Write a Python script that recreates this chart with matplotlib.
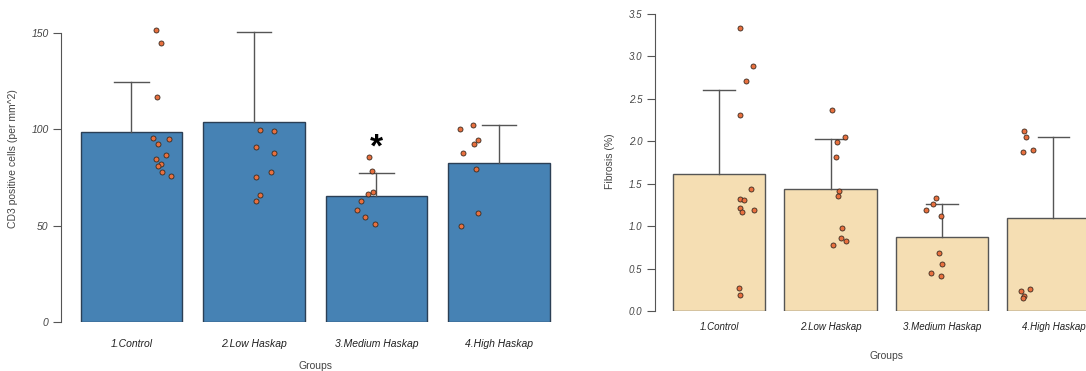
import matplotlib
matplotlib.use("Agg")
import matplotlib.pyplot as plt

plt.rcParams['font.family'] = ['Liberation Sans', 'DejaVu Sans']

groups = ['1.Control', '2.Low Haskap', '3.Medium Haskap', '4.High Haskap']

# CD3 positive cells (per mm^2)
cd3_mean = [98.8, 103.6, 65.4, 82.5]
cd3_err = [124.4, 150.5, 77.5, 102.4]
cd3_points = [
    [151.5, 144.6, 116.9, 95.6, 95.0, 92.2, 86.5, 84.8, 81.8, 81.1, 78.0, 75.8],
    [99.6, 99.3, 90.7, 87.9, 78.0, 75.1, 65.9, 62.6],
    [85.8, 78.5, 67.6, 66.3, 63.0, 58.1, 54.5, 51.0],
    [102.1, 100.0, 94.3, 92.2, 87.5, 79.4, 56.4, 50.0],
]
cd3_jitter = [
    [0.20, 0.24, 0.21, 0.18, 0.31, 0.22, 0.28, 0.20, 0.24, 0.22, 0.25, 0.32],
    [0.05, 0.16, 0.02, 0.16, 0.14, 0.02, 0.05, 0.02],
    [-0.06, -0.04, -0.03, -0.07, -0.13, -0.16, -0.09, -0.01],
    [-0.21, -0.32, -0.17, -0.20, -0.29, -0.19, -0.17, -0.31],
]

# Fibrosis (%)
fib_mean = [1.614, 1.438, 0.876, 1.096]
fib_err = [2.608, 2.027, 1.264, 2.050]
fib_points = [
    [3.338, 2.891, 2.714, 2.310, 1.434, 1.324, 1.304, 1.217, 1.194, 1.163, 0.271, 0.189],
    [2.365, 2.054, 1.988, 1.815, 1.418, 1.359, 0.975, 0.864, 0.821, 0.774],
    [1.332, 1.264, 1.190, 1.116, 0.680, 0.554, 0.451, 0.408],
    [2.117, 2.054, 1.894, 1.870, 0.263, 0.239, 0.177, 0.153],
]
fib_jitter = [
    [0.19, 0.30, 0.24, 0.19, 0.29, 0.19, 0.22, 0.19, 0.31, 0.21, 0.18, 0.19],
    [0.01, 0.13, 0.06, 0.05, 0.08, 0.07, 0.10, 0.09, 0.14, 0.02],
    [-0.05, -0.08, -0.14, -0.01, -0.03, -0.00, -0.10, -0.01],
    [-0.26, -0.25, -0.18, -0.27, -0.21, -0.29, -0.26, -0.27],
]

pt_color = '#e8703f'
axis_grey = '#555555'
text_grey = '#444444'

fig = plt.figure(figsize=(10.86, 3.71), dpi=100)


def draw_panel(ax, means, errs, points, jitter, color, edge, yticks, ylabels, ymax,
               ylab, tick_size):
    x = list(range(len(groups)))
    ax.bar(x, means, width=0.83, color=color, edgecolor=edge, linewidth=1.0, zorder=1)
    for i in x:
        ax.plot([i, i], [means[i], errs[i]], color=axis_grey, lw=1.0, zorder=2)
        ax.plot([i - 0.14, i + 0.14], [errs[i], errs[i]], color=axis_grey, lw=1.0, zorder=2)
        xs = [i + j for j in jitter[i]]
        ax.scatter(xs, points[i], s=13, color=pt_color, edgecolor='#3a2a20',
                   linewidth=0.6, zorder=3)
    ax.set_xlim(-0.575, 3.58)
    ax.set_ylim(0, ymax)
    for s in ['top', 'right', 'bottom']:
        ax.spines[s].set_visible(False)
    ax.spines['left'].set_bounds(yticks[0], yticks[-1])
    ax.spines['left'].set_color(axis_grey)
    ax.set_yticks(yticks)
    ax.set_yticklabels(ylabels, fontstyle='italic', color=text_grey, fontsize=tick_size)
    ax.tick_params(axis='y', length=6, color=axis_grey, pad=3)
    ax.set_xticks(x)
    ax.set_xticklabels(groups, fontstyle='italic', color='#222222', fontsize=tick_size)
    ax.tick_params(axis='x', length=0, pad=12)
    ax.set_ylabel(ylab, color=text_grey, fontsize=7.5)
    ax.set_xlabel('Groups', color=text_grey, fontsize=7.5)
    ax.patch.set_alpha(0)


ax1 = fig.add_axes([61 / 1086, 1 - 322 / 371, 509 / 1086, (322 - 13.7) / 371])
draw_panel(ax1, cd3_mean, cd3_err, cd3_points, cd3_jitter, '#4682b4', '#2b3f55',
           [0, 50, 100, 150], ['0', '50', '100', '150'], 160,
           'CD3 positive cells (per mm^2)', 7.5)
ax1.yaxis.set_label_coords(-0.085, 0.53)
ax1.xaxis.set_label_coords(0.5, -0.128)
ax1.text(2, 90.5, '*', ha='center', va='center', fontsize=24, fontweight='bold', color='black')

ax2 = fig.add_axes([655 / 1086, 1 - 311 / 371, 463 / 1086, (311 - 5.5) / 371])
fib_ticks = [0.0, 0.5, 1.0, 1.5, 2.0, 2.5, 3.0, 3.5]
draw_panel(ax2, fib_mean, fib_err, fib_points, fib_jitter, '#f5deb3', '#555555',
           fib_ticks, ['%.1f' % t for t in fib_ticks], 3.6,
           'Fibrosis (%)', 7)
ax2.tick_params(axis='x', pad=8)
ax2.yaxis.set_label_coords(-0.087, 0.49)
ax2.xaxis.set_label_coords(0.5, -0.13)

fig.savefig('out.png', dpi=100)
